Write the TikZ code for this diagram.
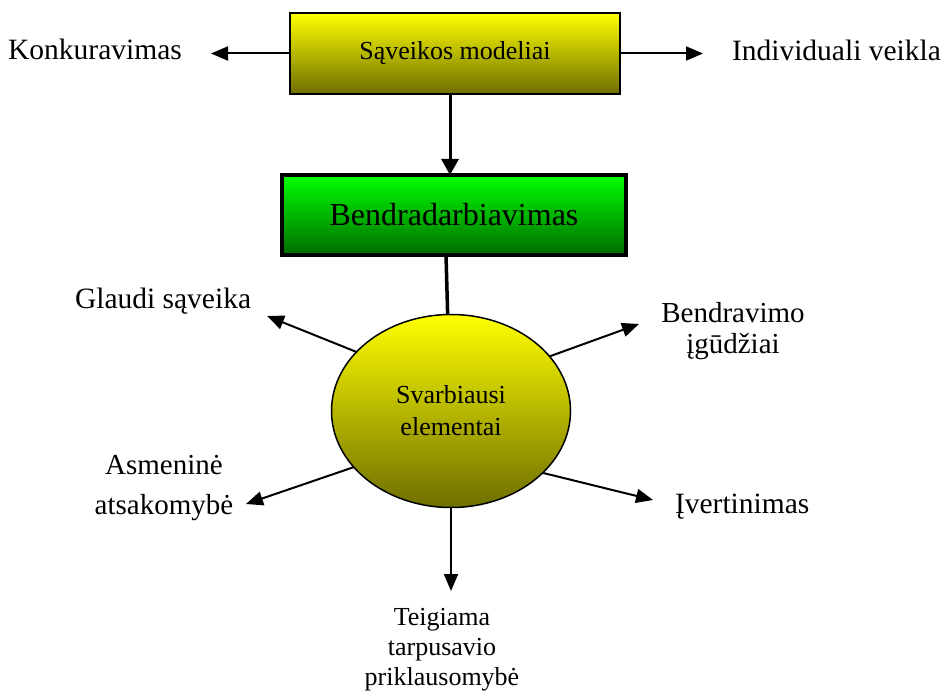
\documentclass[tikz,border=0pt]{standalone}
\usepackage{fontspec}
\setmainfont{Liberation Serif}
\usetikzlibrary{arrows.meta,shapes.geometric}
\definecolor{yelTop}{HTML}{FFFF00}
\definecolor{yelBot}{HTML}{6E6E00}
\definecolor{grnTop}{HTML}{00FF00}
\definecolor{grnBot}{HTML}{006C00}
\tikzset{
  lbl/.style={inner sep=0pt, outer sep=0pt, font=\fontsize{29.5}{31}\selectfont},
  thinarrow/.style={line width=2pt, -{Triangle[length=17pt,width=14pt]}},
  thickarrow/.style={line width=3pt, -{Triangle[length=16pt,width=17pt]}},
  topbox/.style={rectangle, draw, line width=2pt, minimum width=330pt, minimum height=81pt,
    inner sep=0pt, outer sep=0pt, top color=yelTop, bottom color=yelBot,
    font=\fontsize{26}{30}\selectfont},
  greenbox/.style={rectangle, draw, line width=4pt, minimum width=344pt, minimum height=80pt,
    inner sep=0pt, outer sep=0pt, top color=grnTop, bottom color=grnBot,
    font=\fontsize{32}{36}\selectfont},
  elbox/.style={ellipse, draw, line width=1.5pt, minimum width=239pt, minimum height=193pt,
    inner sep=0pt, outer sep=0pt, top color=yelTop, bottom color=yelBot, align=center,
    font=\fontsize{26}{32}\selectfont}
}
\begin{document}
\begin{tikzpicture}[x=1pt,y=-1pt]
\useasboundingbox (0,0) rectangle (941,692);
% main shapes
\node[topbox] (model) at (455,53.5) {Sąveikos modeliai};
\node[greenbox] (collab) at (454,215) {Bendradarbiavimas};
\node[elbox] (ell) at (451,411) {Svarbiausi\\elementai};
% labels (base = baseline of last line)
\node[lbl, anchor=base] (konk) at (95,60) {Konkuravimas};
\node[lbl, anchor=base west] (indiv) at (732,61) {Individuali veikla};
\node[lbl, anchor=base west] (glaud) at (75,308) {Glaudi sąveika};
\node[lbl, anchor=base, align=center, font=\fontsize{29}{31}\selectfont] (bendr) at (733,353) {Bendravimo\\įgūdžiai};
\node[lbl, anchor=base, align=center, font=\fontsize{29}{40}\selectfont] (asm) at (164,514) {Asmeninė\\atsakomybė};
\node[lbl, anchor=base west] (ivert) at (675,513) {Įvertinimas};
\node[lbl, anchor=base, align=center, font=\fontsize{26}{30}\selectfont] (teig) at (442,685) {Teigiama\\tarpusavio\\priklausomybė};
% arrow ends
\coordinate (tipK) at (211,53.5);
\coordinate (tipI) at (703,53.5);
\coordinate (tipG) at (267,316);
\coordinate (tipB) at (639,324);
\coordinate (tipA) at (246,504);
\coordinate (tipV) at (653,500);
\coordinate (tipT) at (451,591);
% connectors
\draw[thinarrow] (model.west) -- (tipK);
\draw[thinarrow] (model.east) -- (tipI);
\draw[thickarrow] ([xshift=-5pt]model.south) -- ([xshift=-4pt]collab.north);
\draw[line width=3.5pt] ([xshift=-8pt]collab.south) -- (ell.92);
\draw[thinarrow] (ell.148) -- (tipG);
\draw[thinarrow] (ell.29.6) -- (tipB);
\draw[thinarrow] (ell.210) -- (tipA);
\draw[thinarrow] (ell.326.6) -- (tipV);
\draw[thinarrow] (ell.south) -- (tipT);
\end{tikzpicture}
\end{document}
